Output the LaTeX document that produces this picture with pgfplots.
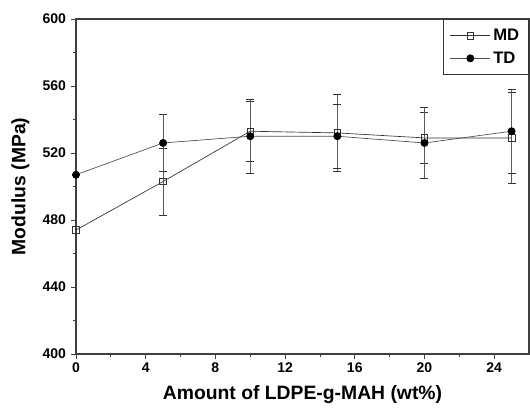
\documentclass[border=0pt]{standalone}
\usepackage{fontspec}
\setmainfont{Liberation Sans}
\usepackage{pgfplots}
\pgfplotsset{compat=1.18}

\begin{document}
\begin{tikzpicture}[x=0.75pt,y=0.75pt]
\begin{axis}[
  scale only axis,
  width=339.75pt, height=251.25pt,
  at={(0,0)}, anchor=south west,
  xmin=0, xmax=26, ymin=400, ymax=600,
  xtick={0,4,...,24}, ytick={400,440,...,600},
  minor x tick num=1, minor y tick num=1,
  tick align=outside,
  xtick pos=left, ytick pos=left,
  major tick length=4pt, minor tick length=2.5pt,
  axis line style={line width=0.8pt, black!75},
  tick style={line width=0.6pt, black!75},
  /pgf/number format/assume math mode=true,
  ticklabel style={font=\fontsize{10.5}{12}\selectfont\bfseries},
  xticklabel style={yshift=1pt},
  xlabel={Amount of LDPE-g-MAH (wt\%)},
  ylabel={Modulus (MPa)},
  label style={font=\fontsize{14.5}{16}\selectfont\bfseries},
  xlabel style={yshift=-3pt},
  ylabel style={yshift=3pt},
  legend style={at={(1,1)}, anchor=north east, draw=black!80, line width=0.7pt,
    font=\fontsize{12.5}{14}\selectfont\bfseries, inner xsep=5pt, inner ysep=5pt,
    cells={anchor=west}, row sep=3pt},
  legend cell align=left,
  legend image code/.code={\draw[mark repeat=2,mark phase=2,#1]
    plot coordinates {(0pt,0pt) (15pt,0pt) (30pt,0pt)};},
  clip=false,
]
\addplot[black!80, line width=0.5pt, mark=square, mark size=2.5pt,
  mark options={fill=white, line width=0.5pt},
  error bars/.cd, y dir=both, y explicit,
  error bar style={black!65, line width=0.5pt},
  error mark options={rotate=90, mark size=3pt, black!80, line width=0.6pt}]
  coordinates {
  (0,474)
  (5,503) +- (0,20)
  (10,533) +- (0,18)
  (15,532) +- (0,23)
  (20,529) +- (0,15)
  (25,529) +- (0,27)
};
\addlegendentry{MD}
\addplot[black!70, line width=0.5pt, mark=*, mark size=2.7pt,
  mark options={fill=black, draw=black, solid},
  error bars/.cd, y dir=both, y explicit,
  error bar style={black!65, line width=0.5pt},
  error mark options={rotate=90, mark size=3pt, black!80, line width=0.6pt}]
  coordinates {
  (0,507)
  (5,526) +- (0,17)
  (10,530) +- (0,22)
  (15,530) +- (0,19)
  (20,526) +- (0,21)
  (25,533) +- (0,25)
};
\addlegendentry{TD}
\end{axis}
\useasboundingbox (-76,-57) rectangle (454,354);
\end{tikzpicture}
\end{document}
